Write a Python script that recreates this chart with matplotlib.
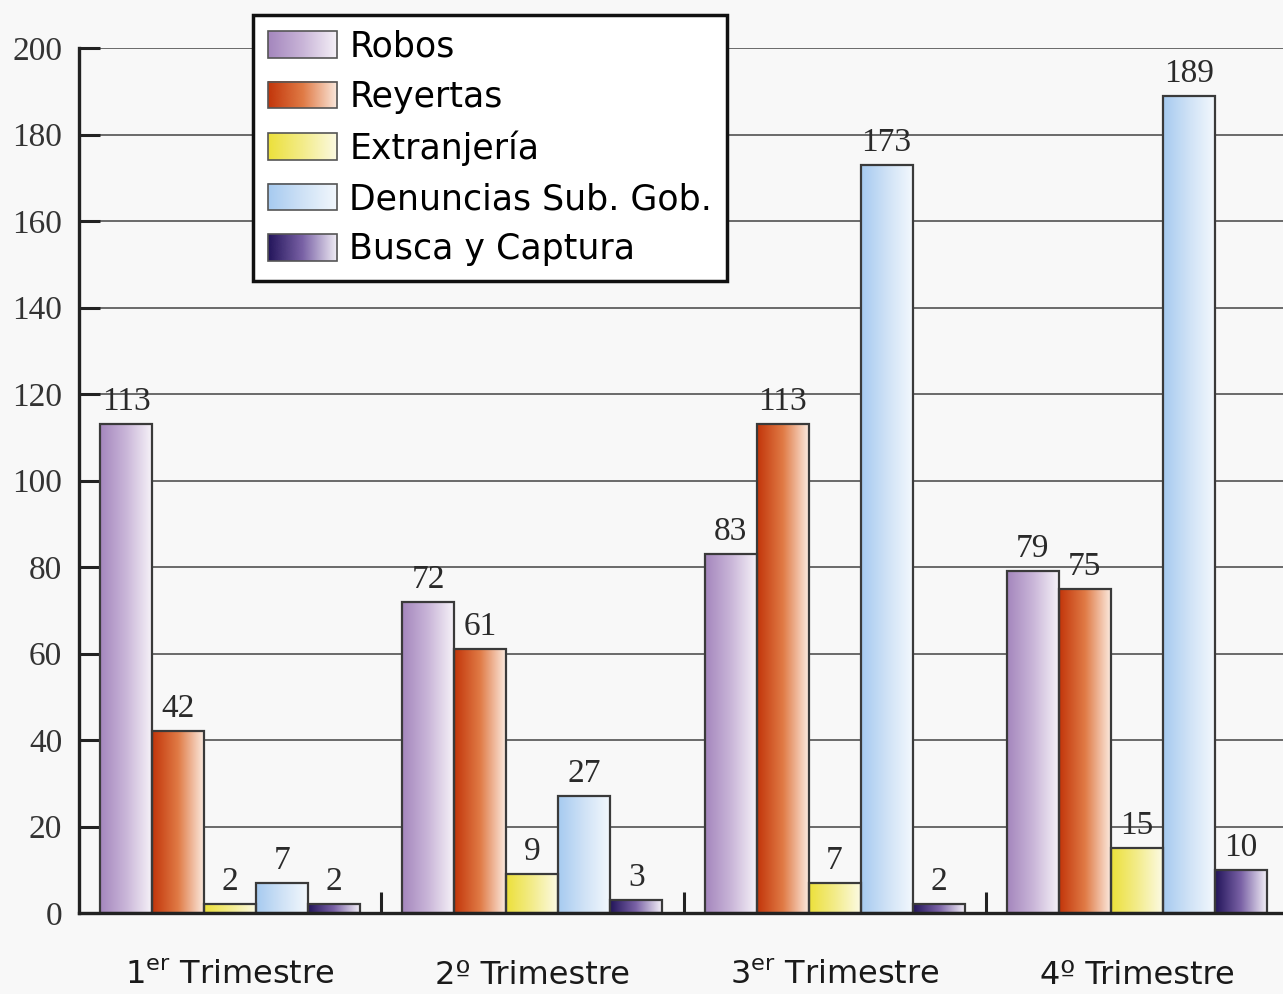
import numpy as np
import matplotlib
matplotlib.use("Agg")
import matplotlib.pyplot as plt
from matplotlib.colors import LinearSegmentedColormap
from matplotlib.patches import Rectangle
from matplotlib.legend_handler import HandlerBase
from matplotlib.image import BboxImage
from matplotlib.transforms import Bbox, TransformedBbox

categories = ["1$^{\\mathregular{er}}$ Trimestre", "2º Trimestre",
              "3$^{\\mathregular{er}}$ Trimestre", "4º Trimestre"]
series_names = ["Robos", "Reyertas", "Extranjería", "Denuncias Sub. Gob.", "Busca y Captura"]
robos = [113, 72, 83, 79]
reyertas = [42, 61, 113, 75]
extranjeria = [2, 9, 7, 15]
denuncias = [7, 27, 173, 189]
busca = [2, 3, 2, 10]
series_values = [robos, reyertas, extranjeria, denuncias, busca]
y_ticks = [0, 20, 40, 60, 80, 100, 120, 140, 160, 180, 200]

grad_colors = [
    ("#a486bd", "#c9b5d8", "#f6f2f8"),
    ("#c2350a", "#e07a45", "#fbeadf"),
    ("#ece03a", "#f3ec8a", "#fcfae4"),
    ("#a6caf0", "#cfe2f6", "#f3f8fd"),
    ("#22145a", "#7a62a6", "#f3f0f7"),
]
cmaps = [LinearSegmentedColormap.from_list(f"g{i}", c) for i, c in enumerate(grad_colors)]
grad = np.linspace(0, 1, 256).reshape(1, -1)

W, H = 1283, 994
fig = plt.figure(figsize=(W / 100, H / 100), dpi=100)
bg = "#f8f8f8"
fig.patch.set_facecolor(bg)
ax = fig.add_axes([79 / W, (994 - 913) / H, 1209 / W, (913 - 48) / H])
ax.set_facecolor(bg)

serif = "Liberation Serif"
sans = "DejaVu Sans"

x = np.arange(len(categories))
bw = 0.172
for j, (vals, cm) in enumerate(zip(series_values, cmaps)):
    bars = ax.bar(x + (j - 2) * bw, vals, width=bw, facecolor="none",
                  edgecolor="#3a3a3a", linewidth=1.6, zorder=3)
    for b, v in zip(bars, vals):
        x0, w, h = b.get_x(), b.get_width(), b.get_height()
        ax.imshow(grad, extent=[x0, x0 + w, 0, h], aspect="auto", cmap=cm,
                  interpolation="bicubic", zorder=2)
        ax.annotate(str(v), (x0 + w / 2, h), xytext=(0, 5), textcoords="offset points",
                    ha="center", va="bottom", fontsize=24, family=serif, color="#2a2a2a")

ax.set_xlim(-0.5, 3.5)
ax.set_ylim(0, 200)
ax.set_yticks(y_ticks)
ax.set_yticklabels([str(t) for t in y_ticks], family=serif, fontsize=24, color="#333333")
ax.tick_params(axis="y", direction="in", length=15, width=2.2, pad=12, color="#222222")
ax.set_xticks(x)
ax.set_xticklabels(categories, family=sans, fontsize=23, color="#1a1a1a")
ax.tick_params(axis="x", which="major", length=0, pad=34)
ax.set_xticks([0.5, 1.5, 2.5], minor=True)
ax.tick_params(axis="x", which="minor", direction="in", length=15, width=2.2, color="#222222")

for t in y_ticks[1:]:
    ax.axhline(t, color="#6a6a6a", linewidth=1.4, zorder=1)

for s in ["top", "right"]:
    ax.spines[s].set_visible(False)
for s in ["left", "bottom"]:
    ax.spines[s].set_linewidth(2.4)
    ax.spines[s].set_color("#222222")
    ax.spines[s].set_zorder(4)


class GradHandler(HandlerBase):
    def __init__(self, cmap):
        super().__init__()
        self.cmap = cmap

    def create_artists(self, legend, orig_handle, xdescent, ydescent, width, height, fontsize, trans):
        bb = Bbox.from_bounds(-xdescent, -ydescent, width, height)
        img = BboxImage(TransformedBbox(bb, trans), cmap=self.cmap, interpolation="bicubic")
        img.set_data(grad)
        rect = Rectangle((-xdescent, -ydescent), width, height, facecolor="none",
                         edgecolor="#555555", linewidth=1.2, transform=trans)
        return [img, rect]


handles = [Rectangle((0, 0), 1, 1, label=n) for n in series_names]
hmap = {h: GradHandler(cm) for h, cm in zip(handles, cmaps)}
leg = fig.legend(handles=handles, labels=series_names, handler_map=hmap,
                 loc="upper left", bbox_to_anchor=(253 / W, 1 - 15 / H),
                 prop={"family": sans, "size": 25}, frameon=True, fancybox=False,
                 edgecolor="#111111", facecolor="white", framealpha=1,
                 handlelength=2.0, handleheight=0.8, labelspacing=0.47,
                 handletextpad=0.35, borderpad=0.42, borderaxespad=0)
leg.get_frame().set_linewidth(2.5)
leg.set_zorder(10)

fig.savefig("out.png", dpi=100, facecolor=bg)
